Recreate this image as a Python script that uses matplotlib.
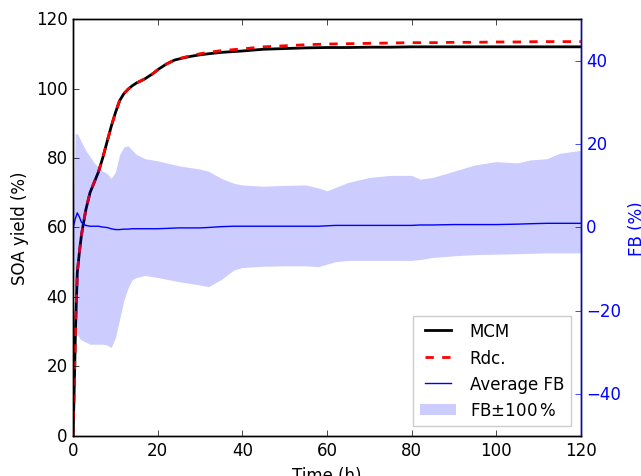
import numpy as np
import matplotlib.pyplot as plt

plt.style.use('classic')
plt.rcParams['figure.facecolor'] = 'white'
plt.rcParams['savefig.facecolor'] = 'white'
plt.rcParams['mathtext.fontset'] = 'dejavusans'

# SOA yield (%) for the full MCM and the reduced mechanism
t_yield = [0, 0.3, 0.6, 1, 1.5, 2, 3, 4, 5, 6, 7, 8, 9, 10, 11, 12, 13, 14, 15, 16, 17, 18, 19, 20,
           22, 24, 26, 28, 30, 32, 35, 40, 45, 50, 55, 60, 65, 70, 75, 80, 85, 90, 95, 100, 105, 110, 115, 120]
mcm = [0, 15, 32, 47, 53, 58, 65, 70, 73, 76, 80, 84.5, 89, 93, 96.5, 98.5, 99.8, 100.8, 101.6, 102.2, 102.8,
       103.6, 104.4, 105.4, 107, 108.2, 108.8, 109.3, 109.7, 110.0, 110.4, 110.8, 111.3, 111.5, 111.7, 111.8,
       111.8, 111.9, 111.9, 112.0, 112.0, 112.0, 112.0, 112.0, 112.0, 112.0, 112.0, 112.0]
rdc = [0, 15, 32, 47, 53, 58, 65, 70, 73, 76, 80, 84.5, 89, 93, 96.5, 98.5, 99.8, 100.8, 101.6, 102.2, 102.8,
       103.6, 104.4, 105.4, 107, 108.3, 108.9, 109.5, 110.0, 110.4, 110.9, 111.4, 112.0, 112.3, 112.6, 112.8,
       112.9, 113.0, 113.1, 113.2, 113.2, 113.3, 113.3, 113.4, 113.4, 113.5, 113.5, 113.5]

# fractional bias (%) and its +/-100% band
t_fb = [0, 0.5, 1, 1.5, 2, 3, 4, 5, 6, 7, 8, 9, 10, 11, 12, 13, 14, 15, 17, 20, 25, 30, 32, 35, 38, 40, 45,
        50, 55, 58, 60, 62, 65, 70, 75, 80, 82, 85, 90, 95, 100, 105, 108, 112, 115, 120]
fb_avg = [0, 2, 3.5, 2.5, 1.2, 0.5, 0.3, 0.3, 0.3, 0.1, 0, -0.3, -0.5, -0.5, -0.4, -0.4, -0.3, -0.3, -0.3,
          -0.3, -0.1, -0.1, 0, 0.2, 0.3, 0.3, 0.3, 0.3, 0.3, 0.3, 0.4, 0.5, 0.5, 0.5, 0.5, 0.5, 0.6, 0.6,
          0.7, 0.7, 0.7, 0.8, 0.9, 1.0, 1.0, 1.0]
fb_hi = [0, 22.5, 22.5, 21.5, 20.5, 18.5, 17.0, 15.5, 14.5, 13.5, 13.0, 11.8, 13.3, 17.5, 19.3, 19.6, 18.5,
         17.5, 16.5, 16.0, 14.8, 14.0, 13.5, 11.8, 10.6, 10.2, 9.9, 10.1, 10.2, 9.5, 8.8, 9.6, 10.8, 12.0,
         12.5, 12.5, 11.6, 12.0, 13.5, 15.0, 15.8, 15.5, 16.2, 16.5, 17.8, 18.5]
fb_lo = [0, -22, -25.5, -26.5, -27, -27.5, -28, -28, -28, -28, -28.2, -28.8, -26.5, -22, -17.5, -14.5, -12.5,
         -12.0, -11.5, -12.0, -13.0, -13.8, -14.2, -12.5, -10.2, -9.6, -9.3, -9.2, -9.2, -9.4, -8.8, -8.2,
         -7.9, -7.9, -7.9, -7.9, -7.7, -7.2, -6.8, -6.5, -6.4, -6.3, -6.2, -6.1, -6.1, -6.1]

fig = plt.figure(figsize=(6.41, 4.77), dpi=100)
ax = fig.add_axes([0.114, 0.084, 0.792, 0.874])
ax2 = ax.twinx()

l1, = ax.plot(t_yield, mcm, color='black', lw=2, label='MCM')
l2, = ax.plot(t_yield, rdc, color='red', lw=2, ls='--', label='Rdc.')
l3, = ax2.plot(t_fb, fb_avg, color='blue', lw=1, label='Average FB')
band = ax2.fill_between(t_fb, fb_lo, fb_hi, color='blue', alpha=0.2, lw=0)

ax.set_xlim(0, 120)
ax.set_ylim(0, 120)
ax.set_xticks([0, 20, 40, 60, 80, 100, 120])
ax.set_yticks([0, 20, 40, 60, 80, 100, 120])
ax.yaxis.set_ticks_position('left')
ax.set_xlabel('Time (h)')
ax.set_ylabel('SOA yield (%)')

ax2.set_ylim(-50, 50)
ax2.set_yticks([-40, -20, 0, 20, 40])
ax2.set_ylabel('FB (%)', color='blue')
ax2.tick_params(axis='y', colors='blue')
ax2.spines['right'].set_color('blue')

leg = ax2.legend([l1, l2, l3, band], ['MCM', 'Rdc.', 'Average FB', r'FB$\pm$100$\,\%$'],
                 loc='lower right', fontsize=12, handlelength=2.2, borderaxespad=0.6)
leg.get_frame().set_edgecolor('#cccccc')

fig.savefig('out.png', dpi=100)
